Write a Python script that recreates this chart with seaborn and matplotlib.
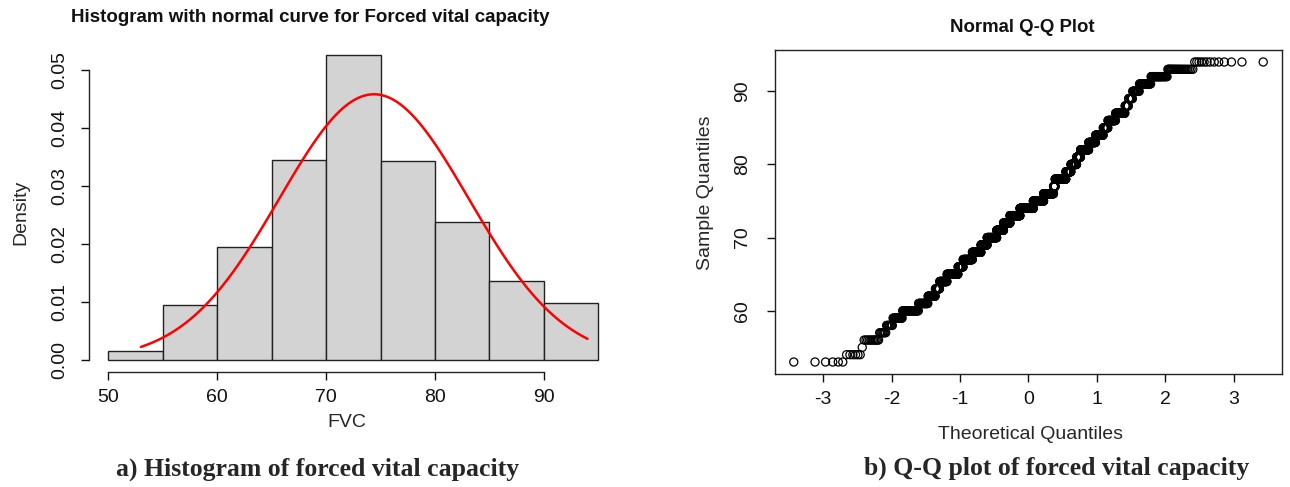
import statistics
import numpy as np
import pandas as pd
import matplotlib
matplotlib.use("Agg")
import matplotlib.pyplot as plt
import seaborn as sns

# ---------------- data ----------------
# Histogram (density per 5-unit FVC bin, right-closed bins as in R)
bin_edges = [50, 55, 60, 65, 70, 75, 80, 85, 90, 95]
bin_density = [0.0015, 0.0095, 0.0195, 0.0345, 0.0526, 0.0343, 0.0238, 0.0136, 0.0098]

# FVC sample values (integers) and how many subjects have each value
fvc_values = list(range(53, 95))
fvc_counts = [6, 6, 1, 11, 7, 8, 15, 35, 28, 26, 17, 33, 57, 30, 60, 62, 48, 80,
              60, 59, 94, 128, 98, 91, 15, 92, 41, 44, 29, 56, 43, 43, 24, 35,
              37, 12, 13, 19, 26, 26, 22, 13]

# fitted normal curve parameters
fvc_mean = 74.4
fvc_sd = 8.7

y_ticks = [0.00, 0.01, 0.02, 0.03, 0.04, 0.05]
x_ticks_hist = [50, 60, 70, 80, 90]
x_ticks_qq = [-3, -2, -1, 0, 1, 2, 3]
y_ticks_qq = [60, 70, 80, 90]

title_left = "Histogram with normal curve for Forced vital capacity"
title_right = "Normal Q-Q Plot"
caption_left = "a) Histogram of forced vital capacity"
caption_right = "b) Q-Q plot of forced vital capacity"

# ---------------- style ----------------
sns.set_style("ticks")
plt.rcParams["font.family"] = ["Liberation Sans", "DejaVu Sans"]
plt.rcParams["axes.unicode_minus"] = False

W, H = 1290, 487
fig = plt.figure(figsize=(W / 100, H / 100), dpi=100)
fig.patch.set_facecolor("white")


def ax_rect(left, top, right, bottom):
    return [left / W, 1 - bottom / H, (right - left) / W, (bottom - top) / H]


TICK_FS = 14
LAB_FS = 14

# ---------------- left: histogram ----------------
ax1 = fig.add_axes(ax_rect(88.6, 43, 618, 372))
centers = [(a + b) / 2 for a, b in zip(bin_edges[:-1], bin_edges[1:])]
hist_df = pd.DataFrame({"center": centers, "density": bin_density})
sns.histplot(data=hist_df, x="center", weights="density", bins=bin_edges,
             color="#D3D3D3", edgecolor="#222222", linewidth=1.0, alpha=1.0,
             ax=ax1)

curve_x = np.linspace(min(fvc_values), max(fvc_values), 120)
curve_y = np.exp(-0.5 * ((curve_x - fvc_mean) / fvc_sd) ** 2) / (fvc_sd * np.sqrt(2 * np.pi))
sns.lineplot(x=curve_x, y=curve_y, color="red", linewidth=1.8, ax=ax1)

ymax = max(bin_density)
ax1.set_xlim(bin_edges[0] - 0.04 * (bin_edges[-1] - bin_edges[0]),
             bin_edges[-1] + 0.04 * (bin_edges[-1] - bin_edges[0]))
ax1.set_ylim(-0.04 * ymax, 1.04 * ymax)
ax1.set_xticks(x_ticks_hist)
ax1.set_xticklabels([str(v) for v in x_ticks_hist])
ax1.set_yticks(y_ticks)
ax1.set_yticklabels([f"{v:.2f}" for v in y_ticks], rotation=90, va="center")
for s in ["top", "right"]:
    ax1.spines[s].set_visible(False)
ax1.spines["left"].set_bounds(y_ticks[0], y_ticks[-1])
ax1.spines["bottom"].set_bounds(x_ticks_hist[0], x_ticks_hist[-1])
for s in ["left", "bottom"]:
    ax1.spines[s].set_color("#222222")
    ax1.spines[s].set_linewidth(1.0)
ax1.tick_params(axis="x", length=6, width=1.0, pad=6, labelsize=TICK_FS, colors="#111111")
ax1.tick_params(axis="y", length=6, width=1.0, pad=9, labelsize=TICK_FS, colors="#111111")
ax1.set_xlabel("FVC", fontsize=LAB_FS, va="center")
ax1.set_ylabel("Density", fontsize=LAB_FS, va="center")
ax1.xaxis.set_label_coords(0.488, -0.155)
ax1.yaxis.set_label_coords(-0.128, 0.485)
ax1.set_title("")

# ---------------- right: Q-Q plot ----------------
ax2 = fig.add_axes(ax_rect(775, 50, 1282, 374))
sample = np.sort(np.repeat(fvc_values, fvc_counts))
n = len(sample)
nd = statistics.NormalDist()
probs = (np.arange(1, n + 1) - 0.5) / n
theo = np.array([nd.inv_cdf(p) for p in probs])
qq_df = pd.DataFrame({"theoretical": theo, "sample": sample})
sns.scatterplot(data=qq_df, x="theoretical", y="sample", marker="o",
                s=34, facecolor="none", edgecolor="black", linewidth=0.9, ax=ax2)
tx0, tx1 = theo.min(), theo.max()
sy0, sy1 = sample.min(), sample.max()
ax2.set_xlim(tx0 - 0.04 * (tx1 - tx0), tx1 + 0.04 * (tx1 - tx0))
ax2.set_ylim(sy0 - 0.04 * (sy1 - sy0), sy1 + 0.04 * (sy1 - sy0))
ax2.set_xticks(x_ticks_qq)
ax2.set_xticklabels([str(v) for v in x_ticks_qq])
ax2.set_yticks(y_ticks_qq)
ax2.set_yticklabels([str(v) for v in y_ticks_qq], rotation=90, va="center")
for s in ax2.spines.values():
    s.set_color("#222222")
    s.set_linewidth(1.0)
ax2.tick_params(axis="x", length=6, width=1.0, pad=6, labelsize=TICK_FS, colors="#111111")
ax2.tick_params(axis="y", length=6, width=1.0, pad=11, labelsize=TICK_FS, colors="#111111")
ax2.set_xlabel("Theoretical Quantiles", fontsize=LAB_FS, va="center")
ax2.set_ylabel("Sample Quantiles", fontsize=LAB_FS, va="center")
ax2.xaxis.set_label_coords(0.503, -0.188)
ax2.yaxis.set_label_coords(-0.137, 0.559)

# ---------------- titles and captions ----------------
fig.text(310 / W, 1 - 18 / H, title_left, ha="center", va="center",
         fontsize=13.5, fontweight="bold", color="#111111")
fig.text(1022.6 / W, 1 - 27 / H, title_right, ha="center", va="center",
         fontsize=13.4, fontweight="bold", color="#111111")
fig.text(318 / W, 1 - 469 / H, caption_left, ha="center", va="center",
         fontsize=18.5, fontweight="bold", family=["Liberation Serif", "DejaVu Serif"])
fig.text(1057 / W, 1 - 468 / H, caption_right, ha="center", va="center",
         fontsize=18.5, fontweight="bold", family=["Liberation Serif", "DejaVu Serif"])

fig.savefig("out.png", dpi=100, facecolor="white")
